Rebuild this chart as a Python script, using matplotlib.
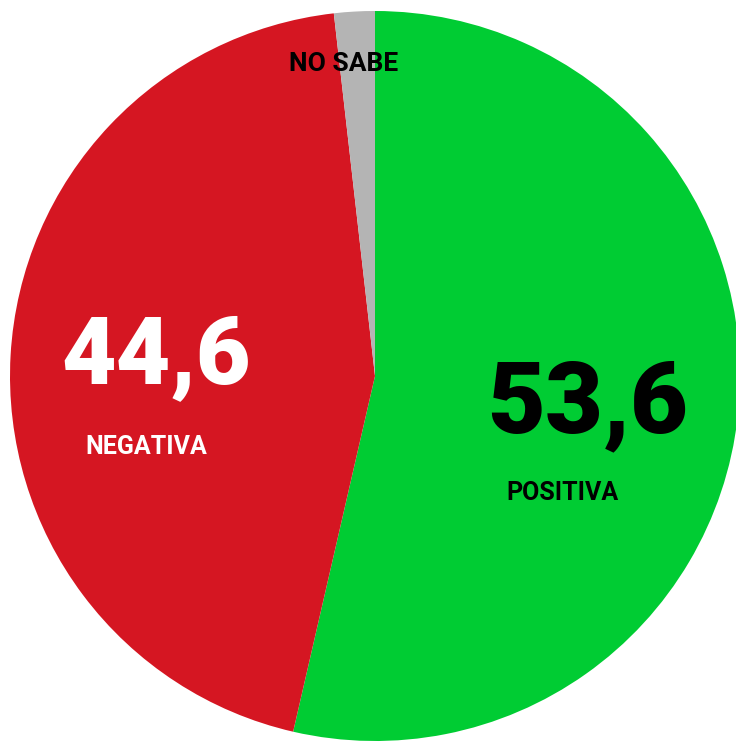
import matplotlib
matplotlib.use("Agg")
import matplotlib.pyplot as plt

labels = ["POSITIVA", "NEGATIVA", "NO SABE"]
values = [53.6, 44.6, 1.8]
colors = ["#00CC33", "#D51622", "#B4B4B4"]
value_text = ["53,6", "44,6", ""]

fonts = ["Roboto", "DejaVu Sans"]

fig = plt.figure(figsize=(7.36, 7.5), dpi=100)
ax = fig.add_axes([0, 0, 1, 1])

ax.pie(values, colors=colors, startangle=90, counterclock=False,
       center=(375, 374), radius=365, wedgeprops=dict(linewidth=0))

# pie() resets the limits, so set them afterwards
ax.set_xlim(0, 736)
ax.set_ylim(0, 750)
ax.set_aspect("equal")
ax.axis("off")

# big numbers
ax.text(588, 345, value_text[0], color="black", fontsize=72, fontweight="heavy",
        family=fonts, ha="center", va="center")
ax.text(156, 393, value_text[1], color="white", fontsize=68, fontweight="heavy",
        family=fonts, ha="center", va="center")

# category labels
ax.text(563, 257, labels[0], color="black", fontsize=18, fontweight="bold",
        family=fonts, ha="center", va="center")
ax.text(146, 303, labels[1], color="white", fontsize=18, fontweight="bold",
        family=fonts, ha="center", va="center")
ax.text(344, 686, labels[2], color="black", fontsize=19, fontweight="bold",
        family=fonts, ha="center", va="center")

plt.savefig("out.png", dpi=100)
